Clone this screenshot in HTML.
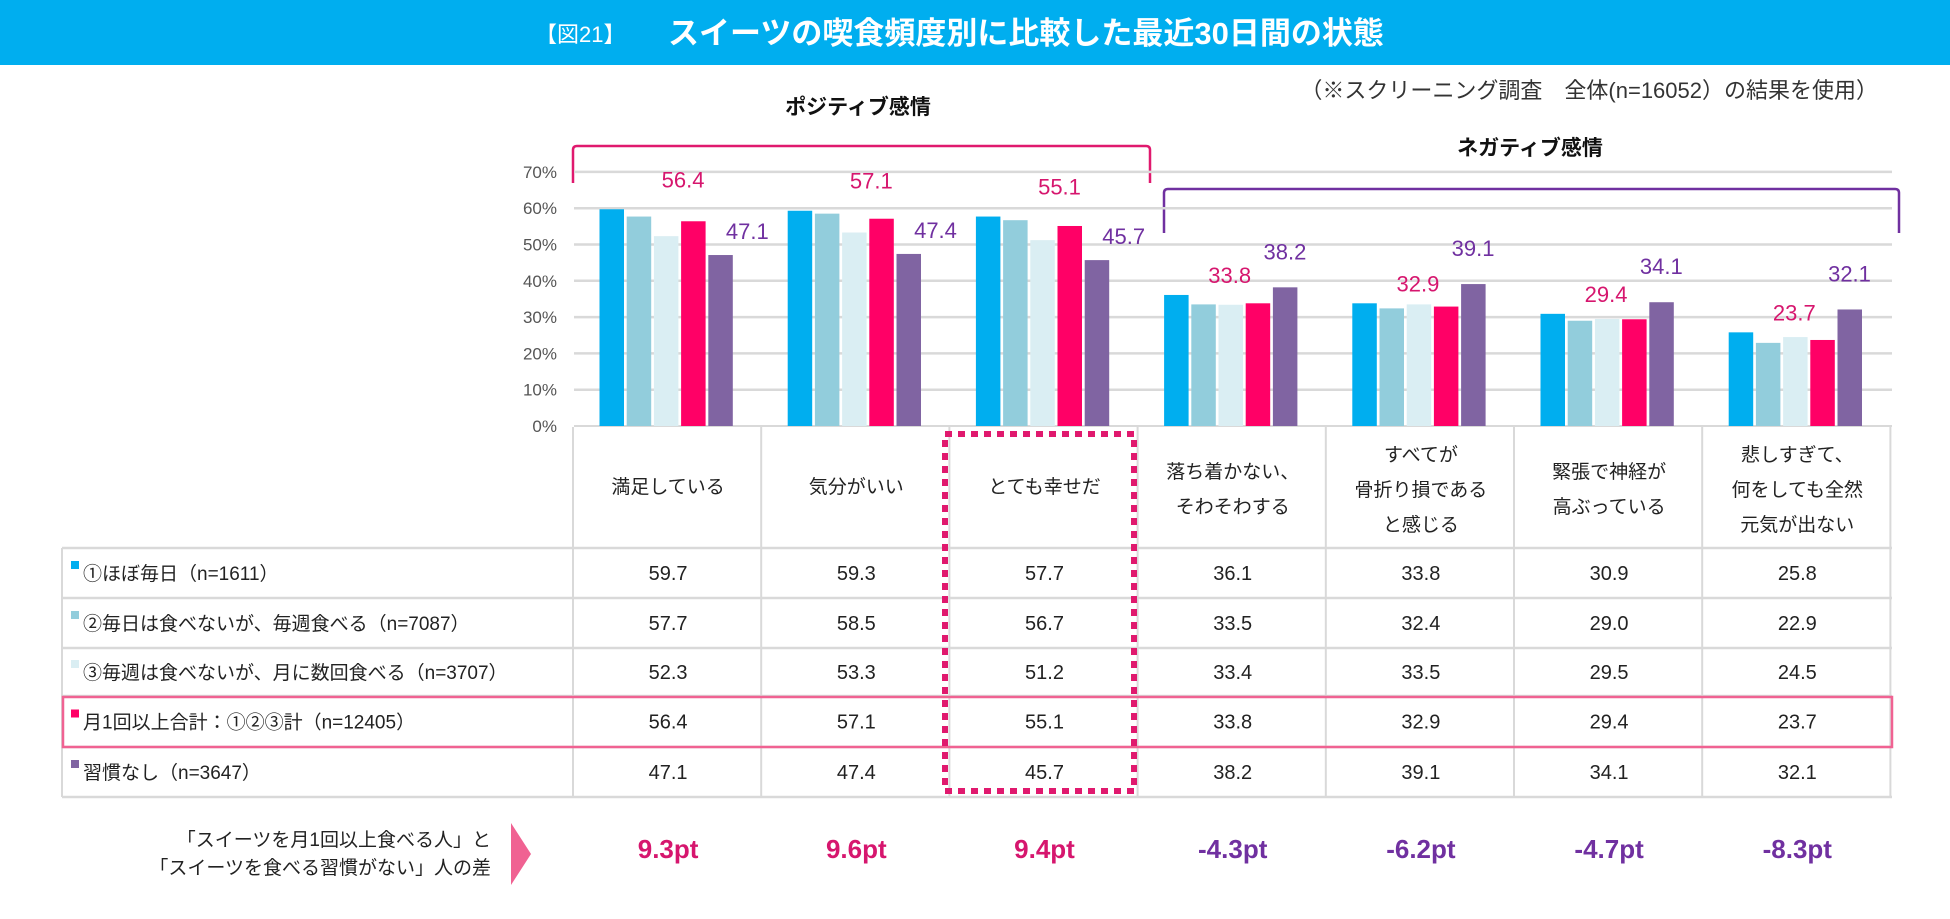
<!DOCTYPE html>
<html><head><meta charset="utf-8">
<style>
body{margin:0;width:1950px;height:914px;background:#fff;overflow:hidden;font-family:"Liberation Sans","Noto Sans CJK JP",sans-serif;}
svg text{font-family:"Liberation Sans","Noto Sans CJK JP",sans-serif;}
</style></head>
<body>
<svg id="chart" width="1950" height="914">
<rect x="0" y="0" width="1950" height="65" fill="#00AEEF"/>
<text x="535" y="42" fill="#fff" font-size="22">【図21】</text>
<text x="668" y="44" fill="#fff" font-size="31" font-weight="bold">スイーツの喫食頻度別に比較した最近30日間の状態</text>
<text x="1878" y="98" text-anchor="end" fill="#333" font-size="22">（※スクリーニング調査　全体(n=16052）の結果を使用）</text>
<text x="858" y="114" text-anchor="middle" fill="#111" font-size="21" font-weight="bold">ポジティブ感情</text>
<text x="1530" y="155" text-anchor="middle" fill="#111" font-size="21" font-weight="bold">ネガティブ感情</text>
<path d="M573 183 V150 Q573 146 577 146 H1146 Q1150 146 1150 150 V183" fill="none" stroke="#E0196E" stroke-width="2.5"/>
<path d="M1164 233 V193 Q1164 189 1168 189 H1895 Q1899 189 1899 193 V233" fill="none" stroke="#7030A0" stroke-width="2.5"/>
<g id="grid"></g><g id="bars"></g><g id="labels"></g><g id="table"></g>
<rect x="945" y="434" width="189" height="357" fill="none" stroke="#E0196E" stroke-width="6" stroke-dasharray="7,6"/>
<text x="491" y="846" text-anchor="end" fill="#222" font-size="19">「スイーツを月1回以上食べる人」と</text>
<text x="491" y="874" text-anchor="end" fill="#222" font-size="19">「スイーツを食べる習慣がない」人の差</text>
<polygon points="511,823 531,854 511,885" fill="#F06292"/>
<g id="diffs"></g>
</svg>
<script>
const categories=["満足している","気分がいい","とても幸せだ","落ち着かない、|そわそわする","すべてが|骨折り損である|と感じる","緊張で神経が|高ぶっている","悲しすぎて、|何をしても全然|元気が出ない"];
const seriesNames=["①ほぼ毎日（n=1611）","②毎日は食べないが、毎週食べる（n=7087）","③毎週は食べないが、月に数回食べる（n=3707）","月1回以上合計：①②③計（n=12405）","習慣なし（n=3647）"];
const s1=[59.7,59.3,57.7,36.1,33.8,30.9,25.8];
const s2=[57.7,58.5,56.7,33.5,32.4,29.0,22.9];
const s3=[52.3,53.3,51.2,33.4,33.5,29.5,24.5];
const s4=[56.4,57.1,55.1,33.8,32.9,29.4,23.7];
const s5=[47.1,47.4,45.7,38.2,39.1,34.1,32.1];
const diffs=["9.3pt","9.6pt","9.4pt","-4.3pt","-6.2pt","-4.7pt","-8.3pt"];
const yTicks=[0,10,20,30,40,50,60,70];
const colors=["#00AEEF","#92CDDC","#DAEEF3","#FF0066","#8064A2"];
const NS="http://www.w3.org/2000/svg";
const X0=574,COLW=188.2,Y0=426,PER=3.63;
const y=v=>Y0-v*PER;
const colX=i=>X0+i*COLW;
const barX=(i,k)=>colX(i)+25.5+k*27.2;
function mk(tag,attrs,parent,txt){const e=document.createElementNS(NS,tag);for(const a in attrs)e.setAttribute(a,attrs[a]);if(txt!==undefined)e.textContent=txt;parent.appendChild(e);return e;}
const grid=document.getElementById('grid');
yTicks.forEach(t=>{
  const l=mk('line',{x1:X0,x2:1892,y1:y(t),y2:y(t),stroke:'#D9D9D9','stroke-width':t===0?2:2.5},grid);
  
  
  const tx=mk('text',{x:557,y:y(t)+6,'text-anchor':'end','font-size':17,fill:'#555'},grid,t+'%');
  
  
});
const series=[s1,s2,s3,s4,s5];
const bars=document.getElementById('bars');
series.forEach((s,k)=>s.forEach((v,i)=>{
  const r=mk('rect',{x:barX(i,k),y:y(v),width:24.5,height:v*PER,fill:colors[k]},bars);
  
  
}));
const labels=document.getElementById('labels');
categories.forEach((c,i)=>{
  const top=Math.max(s1[i],s2[i],s3[i],s4[i]);
  const pk=mk('text',{x:barX(i,3)+(i<3?2:-16),y:y(top)-(i<3?22:12),'text-anchor':'middle','font-size':22,fill:'#D6166E'},labels,s4[i].toFixed(1));
  
  
  const right=s5[i]<s4[i];
  const pu=mk('text',{x:barX(i,4)+12+(right?27:0),y:y(s5[i])-(right?16:28),'text-anchor':'middle','font-size':22,fill:'#7030A0'},labels,s5[i].toFixed(1));
  
  
});
const tb=document.getElementById('table');
const rowY=[548,598,648,696,747,797];
for(let i=0;i<=7;i++){const l=mk('line',{x1:colX(i)-1,x2:colX(i)-1,y1:427,y2:797,stroke:'#D9D9D9','stroke-width':2},tb);
  
  }
mk('line',{x1:62,x2:62,y1:548,y2:797,stroke:'#D9D9D9','stroke-width':2},tb);
rowY.forEach(ry=>{const l=mk('line',{x1:62,x2:1892,y1:ry,y2:ry,stroke:'#D9D9D9','stroke-width':2.5},tb);
  
  });
const pr=mk('rect',{x:63,y:697,width:1829,height:50,fill:'none',stroke:'#F06292','stroke-width':2.5},tb);


categories.forEach((c,i)=>{
  const lines=c.split('|');const cx=colX(i)+COLW/2;
  const start=lines.length===1?493:(lines.length===2?478:461);
  lines.forEach((ln,j)=>{const t=mk('text',{x:cx,y:start+j*35,'text-anchor':'middle','font-size':19,fill:'#222'},tb,ln);
    
    });
});
series.forEach((s,k)=>{
  const ty=rowY[k]+(rowY[k+1]-rowY[k])/2+7;
  const sw=mk('rect',{x:71,y:ty-19,width:8,height:8,fill:colors[k]},tb);
  
  
  const lt=mk('text',{x:83,y:ty,'font-size':19,fill:'#222'},tb,seriesNames[k]);
  
  
  s.forEach((v,i)=>{const t=mk('text',{x:colX(i)+COLW/2,y:ty,'text-anchor':'middle','font-size':20,fill:'#222'},tb,v.toFixed(1));
    
    });
});
const dg=document.getElementById('diffs');
diffs.forEach((d,i)=>{const t=mk('text',{x:colX(i)+COLW/2,y:858,'text-anchor':'middle','font-size':26,'font-weight':'bold',fill:d[0]==='-'?'#7030A0':'#D6166E'},dg,d);
  
  });
</script>
</body></html>
